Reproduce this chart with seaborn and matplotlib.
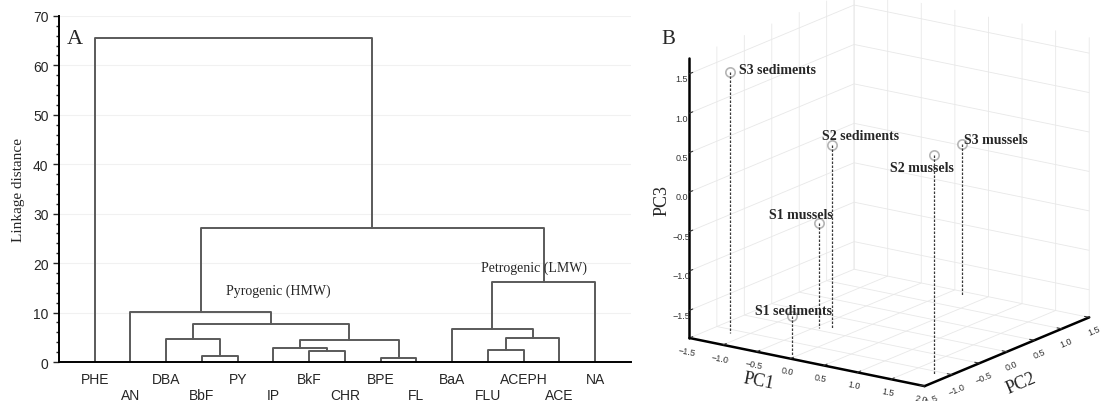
import numpy as np
import pandas as pd
import matplotlib
matplotlib.use("Agg")
import matplotlib.pyplot as plt
import seaborn as sns
from matplotlib.ticker import MultipleLocator
from mpl_toolkits.mplot3d import proj3d

# ---- Panel A: cluster tree of PAHs ----
leaves = ["PHE", "AN", "DBA", "BbF", "PY", "IP", "BkF", "CHR", "BPE", "FL",
          "BaA", "FLU", "ACEPH", "ACE", "NA"]
# (left id, right id, linkage distance); new clusters are numbered from 15 on
merge_left = [3, 8, 6, 11, 5, 19, 2, 18, 10, 21, 1, 23, 25, 0]
merge_right = [4, 9, 7, 12, 17, 16, 15, 13, 22, 20, 24, 14, 26, 27]
merge_height = [1.2, 0.9, 2.2, 2.4, 2.9, 4.45, 4.7, 4.9, 6.6, 7.75, 10.1, 16.2, 27.2, 65.6]

# ---- Panel B: PCA scores ----
samples = ["S3 sediments", "S2 sediments", "S1 mussels", "S1 sediments", "S2 mussels", "S3 mussels"]
pc1 = [-1.22, -0.30, -0.45, -0.04, 1.81, 0.20]
pc2 = [-1.11, -0.38, -0.42, -1.41, -1.09, 1.38]
pc3 = [1.46, 0.48, -0.52, -1.34, 0.93, 0.07]


def dendro_frame(n, left, right, height):
    pos = {i: float(i) for i in range(n)}
    hgt = {i: 0.0 for i in range(n)}
    rows = []
    for k, (a, b, h) in enumerate(zip(left, right, height)):
        for x, y in [(pos[a], hgt[a]), (pos[a], h), (pos[b], h), (pos[b], hgt[b])]:
            rows.append({"seg": k, "x": x, "y": y})
        pos[n + k] = (pos[a] + pos[b]) / 2
        hgt[n + k] = h
    return pd.DataFrame(rows)


sns.set_style("ticks")
plt.rcParams["font.family"] = ["Liberation Sans", "DejaVu Sans"]
serif = "Liberation Serif"

fig = plt.figure(figsize=(11.02, 4.02), dpi=100)

# --- B (drawn first so panel A sits on top of its empty margin) ---
ax3 = fig.add_axes([0.5554, -0.159, 0.49, 1.343], projection="3d")
ax3.patch.set_visible(False)
ax3.set_proj_type("ortho")
ax3.view_init(elev=17, azim=-55)
ax3.set_box_aspect((1, 1, 1.02), zoom=0.9)
ax3.set_xlim(-1.5, 2.0)
ax3.set_ylim(-1.5, 1.5)
ax3.set_zlim(-1.85, 1.7)
ax3.set_xticks(np.arange(-1.5, 2.01, 0.5))
ax3.set_yticks(np.arange(-1.5, 1.51, 0.5))
ax3.set_zticks(np.arange(-1.5, 1.51, 0.5))
for axis in (ax3.xaxis, ax3.yaxis, ax3.zaxis):
    axis.set_pane_color((1, 1, 1, 0))
    axis.pane.set_edgecolor("#e6e6e6")
    axis.line.set_color("black")
    axis.line.set_linewidth(1.8)
    axis._axinfo["grid"].update(color="#e8e8e8", linewidth=0.6)
    axis._axinfo["tick"].update(inward_factor=0.0, outward_factor=0.25)
ax3.zaxis.set_ticks_position("lower")
ax3.zaxis.set_label_position("lower")
ax3.zaxis.set_rotate_label(True)
ax3.tick_params(axis="both", labelsize=6.5, pad=-4, colors="#333333")
ax3.tick_params(axis="x", labelrotation=-11)
ax3.tick_params(axis="y", labelrotation=23)
ax3.set_zlabel("PC3", fontfamily=serif, fontsize=13, labelpad=-7)

zmin = ax3.get_zlim()[0]
for x, y, z in zip(pc1, pc2, pc3):
    ax3.plot([x, x], [y, y], [z, zmin], color="#3a3a3a", linewidth=0.9,
             linestyle=(0, (2, 1.2)))
ax3.scatter(pc1, pc2, pc3, s=45, facecolors="white", edgecolors="#b5b5b5",
            linewidths=1.2, depthshade=False, zorder=5)

label_style = {
    "S3 sediments": ((7, 2), "left"),
    "S2 sediments": ((-7, 7), "left"),
    "S1 mussels": ((10, 6), "right"),
    "S1 sediments": ((-27, 3.5), "left"),
    "S2 mussels": ((14, -9), "right"),
    "S3 mussels": ((2, 3.5), "left"),
}
M = ax3.get_proj()
for name, x, y, z in zip(samples, pc1, pc2, pc3):
    px, py, _ = proj3d.proj_transform(x, y, z, M)
    off, ha = label_style[name]
    ax3.annotate(name, xy=(px, py), xytext=off, textcoords="offset points",
                 ha=ha, va="center", fontfamily=serif, fontweight="bold", fontsize=10)

# axis titles placed below the floor edges, clear of the tick labels
xlo, xhi = ax3.get_xlim()
ylo, yhi = ax3.get_ylim()
for text, (x, y), off, rot in [("PC1", (-0.5, ylo), (1.5, -21), -11),
                               ("PC2", (xhi, 0.0), (10, -22), 23)]:
    px, py, _ = proj3d.proj_transform(x, y, zmin, M)
    ax3.annotate(text, xy=(px, py), xytext=off, textcoords="offset points",
                 ha="center", va="center", rotation=rot, fontfamily=serif, fontsize=13)

fig.text(668 / 1102, 1 - 40 / 402, "B", fontfamily=serif, fontsize=15, va="center", ha="center")

# --- A ---
ax = fig.add_axes([0.0535, 0.097, 0.519, 0.861])
ax.patch.set_visible(False)
df = dendro_frame(len(leaves), merge_left, merge_right, merge_height)
sns.lineplot(data=df, x="x", y="y", units="seg", estimator=None, sort=False,
             color="#5a5a5a", linewidth=1.4, ax=ax)
ax.set_xlim(-1, 15)
ax.set_ylim(0, 70)
ax.yaxis.set_major_locator(MultipleLocator(10))
ax.yaxis.set_minor_locator(MultipleLocator(2))
ax.grid(axis="y", color="#f1f1f1", linewidth=0.8)
ax.set_axisbelow(True)
ax.set_xticks(range(len(leaves)))
ax.set_xticklabels([lab if i % 2 == 0 else "\n" + lab for i, lab in enumerate(leaves)],
                   fontsize=10)
ax.tick_params(axis="x", length=0, pad=7)
ax.tick_params(axis="y", which="major", length=4, width=1, labelsize=10, direction="out")
ax.tick_params(axis="y", which="minor", length=2.5, width=1, direction="out")
for s in ["top", "right"]:
    ax.spines[s].set_visible(False)
for s in ["left", "bottom"]:
    ax.spines[s].set_linewidth(1.4)
    ax.spines[s].set_color("black")
ax.set_xlabel("")
ax.set_ylabel("Linkage distance", fontfamily=serif, fontsize=11, labelpad=6)
ax.text(5.13, 14.6, "Pyrogenic (HMW)", fontfamily=serif, fontsize=10, ha="center", va="center")
ax.text(12.3, 19.2, "Petrogenic (LMW)", fontfamily=serif, fontsize=10, ha="center", va="center")
fig.text(67 / 1102, 1 - 40 / 402, "A", fontfamily=serif, fontsize=16, va="center")

fig.savefig("out.png", dpi=100)
